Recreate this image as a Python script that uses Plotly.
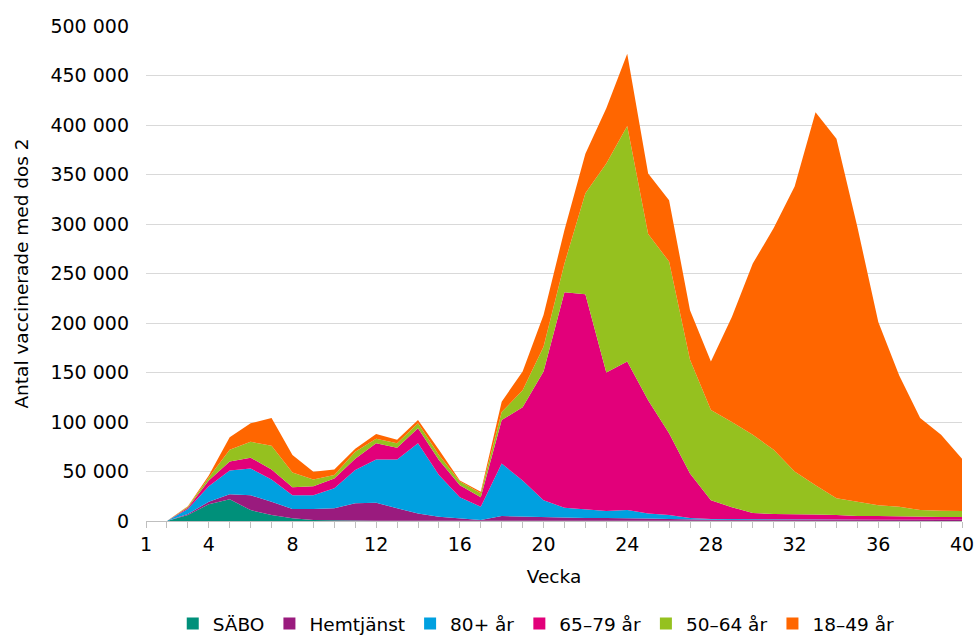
import plotly.graph_objects as go

weeks = list(range(1, 41))

sabo = [0, 0, 6, 17, 22, 11, 6, 2.7, 1, 0.5, 0.4, 0.3, 0.3, 0.3, 0.2, 0.2, 0.1, 0.1, 0.1, 0.1,
        0.1, 0.1, 0.1, 0.1, 0.1, 0.1, 0.1, 0.1, 0.1, 0.1, 0.1, 0.1, 0.1, 0.1, 0.1, 0.1, 0.1, 0.1, 0.1, 0.1]
hemtjanst = [0, 0, 1, 2.5, 5, 15, 13.5, 9.3, 11, 12.3, 17.6, 18.2, 12.5, 7.4, 4.2, 2.5, 0.9, 4.9, 4.3, 3.4,
             2.9, 2.9, 2.9, 2.9, 2.4, 1.9, 1.4, 0.9, 0.9, 0.9, 0.9, 0.9, 0.9, 0.9, 0.9, 0.9, 0.9, 0.9, 0.9, 0.9]
age80 = [0, 0, 5, 15.5, 24, 27, 22.5, 14, 14, 20.2, 33.5, 43.5, 49.2, 70.8, 42.1, 21.3, 13.5, 53, 36.6, 17.5,
         10.5, 9, 7, 8, 5.2, 4, 1.5, 1, 1, 0.8, 0.7, 0.6, 0.5, 0.5, 0.4, 0.3, 0.2, 0.2, 0.2, 0.2]
age65 = [0, 0, 1.5, 6, 9, 11, 10, 8, 9, 10, 11.5, 16.5, 12, 15.1, 15.1, 12, 9.5, 44, 74, 130,
         217.5, 217, 140, 150, 114.3, 82.6, 45, 19, 12, 6.2, 5.3, 5.4, 5, 4.5, 3.6, 3.7, 3.3, 2.8, 2.8, 2.8]
age50 = [0, 0, 1, 3, 12, 16, 24, 15, 7, 3.5, 7, 4.5, 4.5, 5.1, 5.1, 4, 4, 8, 17, 25,
         29, 102, 211, 238, 168, 173.4, 115, 91, 86, 79, 65, 43, 29.5, 17, 14.5, 11, 10, 7, 6.4, 6]
age18 = [0, 0, 0.5, 2, 12.5, 18.7, 28, 17.7, 7.8, 5.5, 3, 5, 3.5, 3.3, 5.3, 1, 1.6, 10.5, 19, 32,
         34, 40, 56, 73, 61, 62, 50, 49, 106, 173, 224, 288, 377, 363, 277.5, 185, 132.5, 93, 76.6, 53]

series_names = ["SÄBO", "Hemtjänst", "80+ år", "65–79 år", "50–64 år", "18–49 år"]
series_values = [sabo, hemtjanst, age80, age65, age50, age18]
colors = ["#00907a", "#9a1b7e", "#00a0e0", "#e2007a", "#95c11f", "#ff6600"]

x_tick_labels = [1, 4, 8, 12, 16, 20, 24, 28, 32, 36, 40]

fig = go.Figure()
for name, vals, col in zip(series_names, series_values, colors):
    fig.add_trace(go.Scatter(
        x=weeks, y=[v * 1000 for v in vals], name=name,
        mode="lines", stackgroup="one", showlegend=False,
        line=dict(width=0, color=col), fillcolor=col,
    ))
# legend entries with square swatches
for name, col in zip(series_names, colors):
    fig.add_trace(go.Scatter(
        x=[None], y=[None], name=name, mode="markers",
        marker=dict(symbol="square", size=12, color=col),
        showlegend=True,
    ))

font_family = "DejaVu Sans"
fig.update_layout(
    width=975, height=635,
    margin=dict(l=146, r=13, t=26, b=114, autoexpand=False),
    paper_bgcolor="white", plot_bgcolor="white",
    separators=", ",
    font=dict(family=font_family, size=18.5, color="#000000"),
    showlegend=True,
    legend=dict(orientation="h", x=0.55, xref="container", xanchor="center",
                y=1 - 624 / 635, yref="container", yanchor="middle",
                font=dict(size=18.5), traceorder="normal", itemwidth=30,
                tracegroupgap=0),
    xaxis=dict(
        range=[1, 40], tickmode="array", tickvals=weeks,
        ticktext=[str(w) if w in x_tick_labels else "" for w in weeks],
        ticks="outside", ticklen=6, tickcolor="#bfbfbf", tickwidth=1,
        showline=True, linecolor="#bfbfbf", linewidth=1,
        showgrid=False, zeroline=False, automargin=False,
        title=dict(text="Vecka", font=dict(size=18.5), standoff=16),
        tickfont=dict(size=19),
    ),
    yaxis=dict(
        range=[0, 500000], dtick=50000, tickformat=",d",
        showgrid=True, gridcolor="#d9d9d9", gridwidth=1,
        zeroline=False, showline=False, ticks="", automargin=False,
        ticklabelstandoff=16,
        title=dict(text="Antal vaccinerade med dos 2", font=dict(size=18.5), standoff=16),
        tickfont=dict(size=19),
    ),
)

fig.write_html("out.html")
